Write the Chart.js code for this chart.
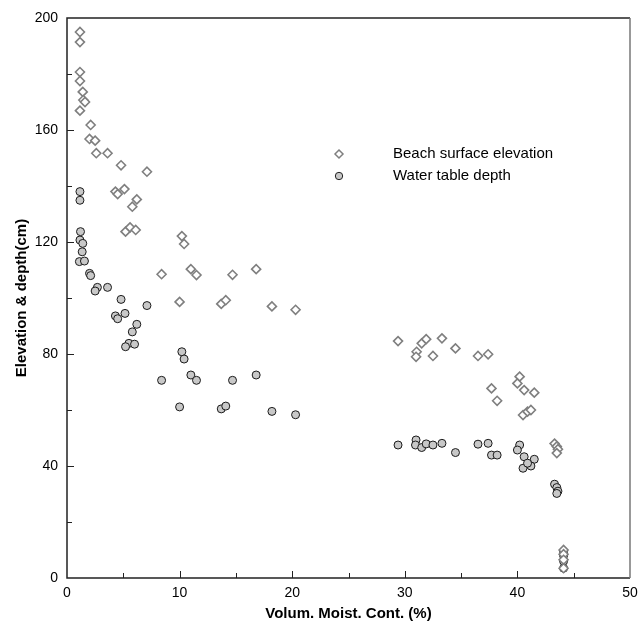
<!DOCTYPE html>
<html>
<head>
<meta charset="utf-8">
<script src="https://cdn.jsdelivr.net/npm/chart.js@4"></script>
<style>
  html, body { margin: 0; padding: 0; background: #fff; }
  #wrap { width: 639px; height: 625px; position: relative; }
</style>
</head>
<body>
<div id="wrap"><canvas id="chart"></canvas></div>
<script>
// Beach surface elevation (diamonds)
const beachX = [1.15, 1.15, 1.15, 1.15, 1.4, 1.45, 1.6, 1.15, 2.1, 2.0, 2.5, 2.6, 3.6, 4.8, 7.1,
    4.3, 4.5, 5.1, 6.2, 5.8, 5.2, 5.6, 6.1, 10.2, 10.4, 8.4, 11.0, 11.5, 14.7, 16.8,
    10.0, 13.7, 14.1, 18.2, 20.3, 29.4, 31.5, 31.9, 33.3, 34.5, 31.05, 31.0, 32.5,
    36.5, 37.4, 37.7, 38.2, 40.2, 40.0, 40.6, 41.5, 40.5, 40.9, 41.2,
    43.3, 43.5, 43.6, 43.5, 44.1, 44.1, 44.1, 44.1];
const beachY = [195, 191.4, 180.7, 177.5, 173.6, 170.7, 170, 166.9, 161.8, 156.8, 156.2, 151.7, 151.7, 147.4, 145.1,
    138, 137.1, 138.9, 135.2, 132.6, 123.7, 125.2, 124.3, 122.1, 119.3, 108.5, 110.3, 108.2, 108.3, 110.3,
    98.6, 97.9, 99.2, 97.0, 95.8, 84.6, 83.8, 85.3, 85.6, 82.0, 80.8, 79.0, 79.3,
    79.3, 79.9, 67.7, 63.3, 71.9, 69.5, 67.1, 66.2, 58.2, 59.4, 60.0,
    48.0, 47.0, 46.0, 44.6, 10, 8.5, 6.5, 3.5];

// Water table depth (circles)
const waterX = [1.15, 1.15, 1.2, 1.15, 1.4, 1.35, 1.1, 1.55, 2.0, 2.1, 2.7, 2.5, 3.6, 4.8, 7.1,
    4.3, 4.5, 5.15, 6.2, 5.8, 5.5, 6.0, 5.2, 10.2, 10.4, 8.4, 11.0, 11.5, 14.7, 16.8,
    10.0, 13.7, 14.1, 18.2, 20.3, 29.4, 31.0, 30.95, 31.5, 31.9, 32.5, 33.3, 34.5,
    36.5, 37.4, 37.7, 38.2, 40.2, 40.0, 40.6, 41.5, 41.2, 40.5, 40.9,
    43.3, 43.5, 43.6, 43.5, 44.1, 44.1, 44.1, 44.1];
const waterY = [138, 134.9, 123.7, 120.7, 119.5, 116.5, 113, 113.2, 108.8, 108, 103.8, 102.5, 103.8, 99.5, 97.3,
    93.6, 92.6, 94.5, 90.6, 87.9, 83.8, 83.5, 82.6, 80.8, 78.2, 70.6, 72.5, 70.6, 70.6, 72.5,
    61.1, 60.4, 61.4, 59.5, 58.3, 47.5, 49.3, 47.5, 46.6, 47.9, 47.5, 48.1, 44.8,
    47.8, 48.1, 43.9, 43.9, 47.5, 45.7, 43.3, 42.4, 40.0, 39.2, 41,
    33.5, 32.3, 31.0, 30.2, 9.5, 8, 6, 3.5];

const xTicks = [0, 10, 20, 30, 40, 50];
const yTicks = [0, 40, 80, 120, 160, 200];

const seriesNames = ['Beach surface elevation', 'Water table depth'];

const beachPoints = beachX.map((x, i) => ({ x: x, y: beachY[i] }));
const waterPoints = waterX.map((x, i) => ({ x: x, y: waterY[i] }));

const FONT = 'Arial, "Liberation Sans", sans-serif';

/**
 * Frame, inward ticks and legend
 */
const framePlugin = {
    id: 'frame',
    afterDraw(chart) {
        const ctx = chart.ctx;
        const a = chart.chartArea;
        const xs = chart.scales.x;
        const ys = chart.scales.y;
        ctx.save();

        // box
        ctx.lineWidth = 1.5;
        ctx.strokeStyle = '#222';
        ctx.beginPath();
        ctx.moveTo(a.right, a.top);
        ctx.lineTo(a.left, a.top);
        ctx.lineTo(a.left, a.bottom);
        ctx.lineTo(a.right, a.bottom);
        ctx.stroke();
        ctx.strokeStyle = '#777';
        ctx.beginPath();
        ctx.moveTo(a.right, a.top);
        ctx.lineTo(a.right, a.bottom);
        ctx.stroke();

        // ticks pointing inward, minor ones in between
        ctx.strokeStyle = '#222';
        ctx.lineWidth = 1;
        ctx.beginPath();
        for (let v = 5; v < 50; v += 5) {
            const px = Math.round(xs.getPixelForValue(v)) + 0.5;
            const len = v % 10 === 0 ? 7 : 5;
            ctx.moveTo(px, a.bottom);
            ctx.lineTo(px, a.bottom - len);
        }
        for (let v = 20; v < 200; v += 20) {
            const py = Math.round(ys.getPixelForValue(v)) + 0.5;
            const len = v % 40 === 0 ? 7 : 5;
            ctx.moveTo(a.left, py);
            ctx.lineTo(a.left + len, py);
        }
        ctx.stroke();

        // legend
        const lx = 339;
        const rows = [154, 176];
        ctx.strokeStyle = '#7f7f7f';
        ctx.lineWidth = 1.5;
        ctx.fillStyle = '#fff';
        ctx.beginPath();
        ctx.moveTo(lx, rows[0] - 4);
        ctx.lineTo(lx + 4, rows[0]);
        ctx.lineTo(lx, rows[0] + 4);
        ctx.lineTo(lx - 4, rows[0]);
        ctx.closePath();
        ctx.fill();
        ctx.stroke();

        ctx.beginPath();
        ctx.arc(lx, rows[1], 3.7, 0, Math.PI * 2);
        ctx.fillStyle = '#c8c8c8';
        ctx.fill();
        ctx.strokeStyle = '#222';
        ctx.lineWidth = 1;
        ctx.stroke();

        ctx.fillStyle = '#000';
        ctx.font = '15px ' + FONT;
        ctx.textBaseline = 'middle';
        ctx.textAlign = 'left';
        ctx.fillText(seriesNames[0], 393, rows[0]);
        ctx.fillText(seriesNames[1], 393, rows[1]);
        ctx.restore();
    }
};

const ctx = document.getElementById('chart').getContext('2d');

new Chart(ctx, {
    type: 'scatter',
    data: {
        datasets: [
            {
                label: seriesNames[0],
                data: beachPoints,
                pointStyle: 'rectRot',
                pointRadius: 4.5,
                backgroundColor: '#ffffff',
                borderColor: '#7f7f7f',
                borderWidth: 1.6
            },
            {
                label: seriesNames[1],
                data: waterPoints,
                pointStyle: 'circle',
                pointRadius: 4,
                backgroundColor: '#c8c8c8',
                borderColor: '#1a1a1a',
                borderWidth: 1
            }
        ]
    },
    options: {
        responsive: true,
        maintainAspectRatio: false,
        animation: false,
        layout: {
            padding: { top: 18, right: 0, left: 0, bottom: 0 }
        },
        plugins: {
            legend: { display: false },
            tooltip: { enabled: false }
        },
        scales: {
            x: {
                type: 'linear',
                min: 0,
                max: 50,
                afterFit: (scale) => {
                    scale.height = 47;
                    scale.paddingLeft = 0;
                    scale.paddingRight = 9;
                },
                afterBuildTicks: (scale) => { scale.ticks = xTicks.map(v => ({ value: v })); },
                grid: { display: false, drawTicks: false },
                border: { display: false },
                ticks: {
                    color: '#000',
                    padding: 7,
                    font: { family: FONT, size: 14 }
                },
                title: {
                    display: true,
                    text: 'Volum. Moist. Cont. (%)',
                    color: '#000',
                    font: { family: FONT, size: 15, weight: 'bold' },
                    padding: { top: 0, bottom: 2 }
                }
            },
            y: {
                type: 'linear',
                min: 0,
                max: 200,
                afterFit: (scale) => { scale.width = 67; },
                afterBuildTicks: (scale) => { scale.ticks = yTicks.map(v => ({ value: v })); },
                grid: { display: false, drawTicks: false },
                border: { display: false },
                ticks: {
                    color: '#000',
                    padding: 9,
                    font: { family: FONT, size: 14 }
                },
                title: {
                    display: true,
                    text: 'Elevation & depth(cm)',
                    color: '#000',
                    font: { family: FONT, size: 15, weight: 'bold' },
                    padding: { top: 13, bottom: 0 }
                }
            }
        }
    },
    plugins: [framePlugin]
});
</script>
</body>
</html>
